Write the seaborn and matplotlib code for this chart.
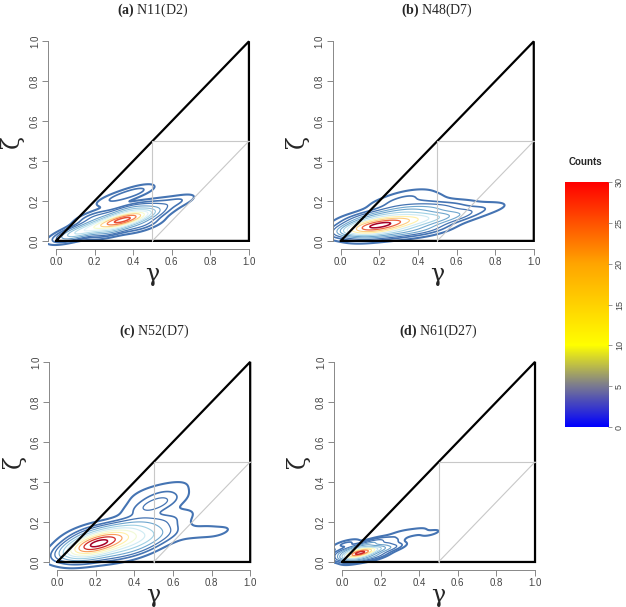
import numpy as np
import matplotlib
matplotlib.use("Agg")
import matplotlib.pyplot as plt
import seaborn as sns
from matplotlib.colors import LinearSegmentedColormap, ListedColormap

sns.set_style("white")
plt.rcParams['font.family'] = ['Liberation Sans', 'DejaVu Sans']
plt.rcParams['mathtext.fontset'] = 'custom'
plt.rcParams['mathtext.rm'] = 'Liberation Serif'
plt.rcParams['mathtext.bf'] = 'Liberation Serif:bold'

# panel titles
titles = ["(a)", "(b)", "(c)", "(d)"]
names = ["N11(D2)", "N48(D7)", "N52(D7)", "N61(D27)"]

# cluster points (gamma, zeta) and weights
a_gamma = [0.37, 0.32, 0.27, 0.42, 0.37, 0.30, 0.20, 0.12, 0.08, 0.20, 0.45,
           0.41, 0.30, 0.50, 0.62, 0.53]
a_zeta = [0.11, 0.10, 0.09, 0.12, 0.15, 0.06, 0.07, 0.045, 0.03, 0.12, 0.08,
          0.245, 0.21, 0.18, 0.195, 0.14]
a_w = [7, 5, 4, 4, 2, 2, 2.5, 2.5, 1, 1, 1, 0.8, 0.6, 0.6, 0.7, 0.5]

b_gamma = [0.18, 0.13, 0.24, 0.18, 0.18, 0.32, 0.32, 0.32, 0.45, 0.45, 0.45,
           0.58, 0.58, 0.68, 0.78, 0.07, 0.08, 0.36, 0.26, 0.45]
b_zeta = [0.075, 0.065, 0.085, 0.035, 0.12, 0.10, 0.05, 0.15, 0.11, 0.06, 0.16,
          0.12, 0.17, 0.15, 0.17, 0.07, 0.11, 0.23, 0.19, 0.21]
b_w = [11, 6, 7, 3, 3, 7, 3, 3, 4.5, 2, 2, 2, 1, 0.8, 0.5, 1.5, 0.8, 0.9, 1, 0.6]

c_gamma = [0.20, 0.15, 0.25, 0.20, 0.20, 0.32, 0.32, 0.32, 0.42, 0.42, 0.42,
           0.52, 0.52, 0.11, 0.13, 0.52, 0.47, 0.58, 0.46, 0.62, 0.72, 0.85]
c_zeta = [0.09, 0.08, 0.10, 0.05, 0.13, 0.11, 0.06, 0.16, 0.12, 0.07, 0.18,
          0.13, 0.19, 0.08, 0.14, 0.29, 0.28, 0.36, 0.34, 0.22, 0.15, 0.15]
c_w = [11, 5, 6, 3, 3, 5, 2, 2, 3.5, 1.5, 1.5, 1.5, 0.8, 1.2, 0.7, 1.7, 0.6, 0.5,
       0.4, 0.4, 0.4, 0.35]

d_gamma = [0.09, 0.06, 0.12, 0.09, 0.09, 0.17, 0.17, 0.17, 0.25, 0.25, 0.02,
           0.02, 0.30, 0.38, 0.46]
d_zeta = [0.045, 0.04, 0.05, 0.02, 0.07, 0.06, 0.03, 0.10, 0.07, 0.10, 0.05,
          0.09, 0.14, 0.15, 0.145]
d_w = [12, 5, 5, 3, 3, 3, 1.5, 1.5, 1.5, 0.8, 2, 0.8, 0.5, 0.5, 0.4]

panels = [(a_gamma, a_zeta, a_w), (b_gamma, b_zeta, b_w),
          (c_gamma, c_zeta, c_w), (d_gamma, d_zeta, d_w)]
top_colour = [0.85, 1.0, 1.0, 0.92]

# colour bar
cbar_ticks = [0, 5, 10, 15, 20, 25, 30]

levels = [0.025, 0.08, 0.14, 0.21, 0.29, 0.38, 0.48, 0.59, 0.7, 0.82, 0.94]
widths = [1.5, 1.2, 0.9, 0.8, 0.8, 0.8, 0.8, 0.8, 0.8, 0.9, 1.1]

fig = plt.figure(figsize=(6.26, 6.07), dpi=100)
positions = [[0.077, 0.590, 0.333, 0.355], [0.532, 0.590, 0.333, 0.355],
             [0.079, 0.061, 0.333, 0.356], [0.534, 0.061, 0.333, 0.356]]

base = plt.get_cmap("RdYlBu_r")
for i, (gx, gz, w) in enumerate(panels):
    ax = fig.add_axes(positions[i])
    cols = ListedColormap([base(v) for v in np.linspace(0.1, top_colour[i], len(levels))])
    sns.kdeplot(x=gx, y=gz, weights=w, levels=levels, cmap=cols,
                linewidths=widths, bw_method=0.6, gridsize=200, ax=ax)
    # triangle
    ax.plot([0, 1, 1, 0], [0, 1, 0, 0], color="black", lw=1.6, solid_joinstyle="miter")
    ax.plot([0.5, 0.5, 1], [0, 0.5, 0.5], color="#c8c8c8", lw=0.8)
    ax.plot([0.5, 1], [0, 0.5], color="#c8c8c8", lw=0.8)
    ax.set_xlim(-0.04, 1.04)
    ax.set_ylim(-0.04, 1.04)
    ticks = [0.0, 0.2, 0.4, 0.6, 0.8, 1.0]
    ax.set_xticks(ticks)
    ax.set_yticks(ticks)
    ax.set_xticklabels([f"{t:.1f}" for t in ticks])
    ax.set_yticklabels([f"{t:.1f}" for t in ticks], rotation=90, va="center")
    ax.tick_params(direction="out", length=4, width=0.7, color="#888888",
                   labelsize=7, labelcolor="#444444", pad=2,
                   bottom=True, left=True)
    for s in ["top", "right"]:
        ax.spines[s].set_visible(False)
    for s in ["left", "bottom"]:
        ax.spines[s].set_color("#888888")
        ax.spines[s].set_linewidth(0.7)
        ax.spines[s].set_bounds(0, 1)
    ax.set_xlabel("γ", fontsize=17, family="DejaVu Serif", labelpad=-3)
    ax.set_ylabel("ζ", fontsize=17, family="DejaVu Serif", labelpad=4)
    ax.set_title(r"$\mathbf{" + titles[i] + "}$ " + names[i],
                 fontsize=10, family="Liberation Serif", pad=14)

# colour bar
cax = fig.add_axes([0.9026, 0.2965, 0.0687, 0.4036])
cmap = LinearSegmentedColormap.from_list(
    "counts", [(0, "#0000ff"), (5 / 30, "#7a7a90"), (10 / 30, "#ffff00"),
               (20 / 30, "#ffa500"), (1, "#ff0000")])
grad = np.linspace(0, 30, 256).reshape(-1, 1)
cax.imshow(grad, aspect="auto", cmap=cmap, origin="lower", extent=[0, 1, 0, 30])
cax.set_xticks([])
cax.yaxis.tick_right()
cax.set_yticks(cbar_ticks)
cax.set_yticklabels([str(t) for t in cbar_ticks], rotation=90, va="center")
cax.tick_params(axis="y", direction="out", length=3, width=0.6, color="#888888",
                labelsize=6.5, labelcolor="#444444", pad=2, right=True)
for s in cax.spines.values():
    s.set_visible(False)
fig.text(0.935, 0.728, "Counts", fontsize=7, fontweight="bold", ha="center")

fig.savefig("out.png", dpi=100)
